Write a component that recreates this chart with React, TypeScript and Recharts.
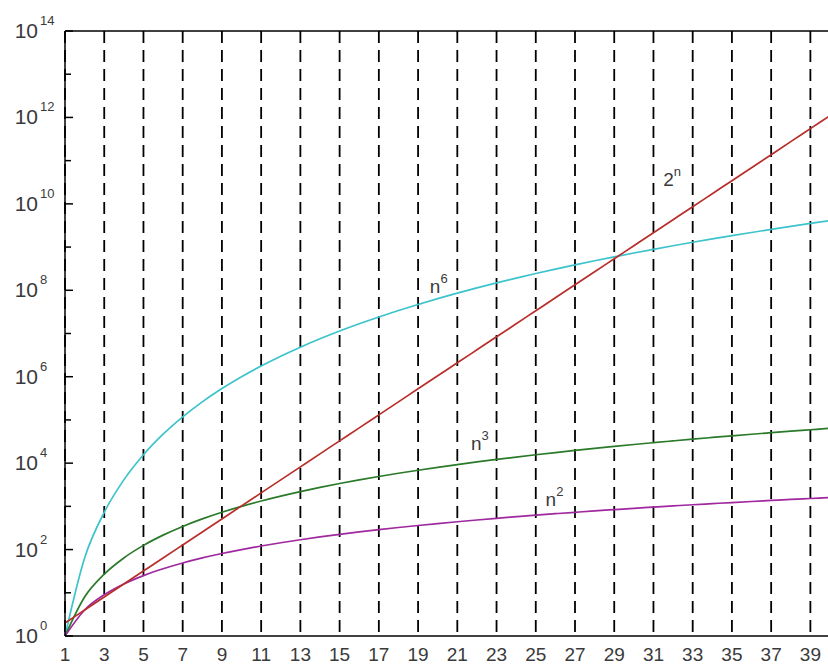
import React from 'react';
import { LineChart, Line, XAxis, YAxis, CartesianGrid, ReferenceLine, ReferenceDot } from 'recharts';

// n = 1..40
const nValues = [
  1, 2, 3, 4, 5, 6, 7, 8, 9, 10, 11, 12, 13, 14, 15, 16, 17, 18, 19, 20,
  21, 22, 23, 24, 25, 26, 27, 28, 29, 30, 31, 32, 33, 34, 35, 36, 37, 38, 39, 40,
];

const squareValues = [
  1, 4, 9, 16, 25, 36, 49, 64, 81, 100, 121, 144, 169, 196, 225, 256, 289, 324, 361, 400,
  441, 484, 529, 576, 625, 676, 729, 784, 841, 900, 961, 1024, 1089, 1156, 1225, 1296, 1369, 1444, 1521, 1600,
];

const cubeValues = [
  1, 8, 27, 64, 125, 216, 343, 512, 729, 1000, 1331, 1728, 2197, 2744, 3375, 4096, 4913, 5832, 6859, 8000,
  9261, 10648, 12167, 13824, 15625, 17576, 19683, 21952, 24389, 27000, 29791, 32768, 35937, 39304, 42875,
  46656, 50653, 54872, 59319, 64000,
];

const sixthValues = [
  1, 64, 729, 4096, 15625, 46656, 117649, 262144, 531441, 1000000, 1771561, 2985984, 4826809, 7529536,
  11390625, 16777216, 24137569, 34012224, 47045881, 64000000, 85766121, 113379904, 148035889, 191102976,
  244140625, 308915776, 387420489, 481890304, 594823321, 729000000, 887503681, 1073741824, 1291467969,
  1544804416, 1838265625, 2176782336, 2565726409, 3010936384, 3518743761, 4096000000,
];

const expValues = [
  2, 4, 8, 16, 32, 64, 128, 256, 512, 1024, 2048, 4096, 8192, 16384, 32768, 65536, 131072, 262144, 524288,
  1048576, 2097152, 4194304, 8388608, 16777216, 33554432, 67108864, 134217728, 268435456, 536870912,
  1073741824, 2147483648, 4294967296, 8589934592, 17179869184, 34359738368, 68719476736, 137438953472,
  274877906944, 549755813888, 1099511627776,
];

const xTicks = [1, 3, 5, 7, 9, 11, 13, 15, 17, 19, 21, 23, 25, 27, 29, 31, 33, 35, 37, 39];
const yTicks = [1, 1e1, 1e2, 1e3, 1e4, 1e5, 1e6, 1e7, 1e8, 1e9, 1e10, 1e11, 1e12, 1e13, 1e14];

// curve labels: base, superscript, position (data coords)
const curveLabels = [
  { base: 'n', sup: '6', x: 19.6, y: 8.7e7 },
  { base: '2', sup: 'n', x: 31.5, y: 2.6e10 },
  { base: 'n', sup: '3', x: 21.7, y: 2.0e4 },
  { base: 'n', sup: '2', x: 25.5, y: 1.0e3 },
];

const data = nValues.map((n, i) => ({
  n,
  sq: squareValues[i],
  cube: cubeValues[i],
  sixth: sixthValues[i],
  exp: expValues[i],
}));

const FONT = '"Liberation Sans", Arial, sans-serif';
const TEXT = '#3a3a3a';

const YTick = (props: any) => {
  const { x, y, payload } = props;
  const exp = Math.round(Math.log10(payload.value));
  const major = exp % 2 === 0;
  return (
    <g>
      <line x1={x} y1={y} x2={x + (major ? 8 : 6)} y2={y} stroke="#000" strokeWidth={1.5} />
      {major && (
        <text x={x - 27} y={y + 7} textAnchor="end" fontSize={21} fill={TEXT} fontFamily={FONT}>
          10
        </text>
      )}
      {major && (
        <text x={x - 25} y={y - 6} textAnchor="start" fontSize={13} fill={TEXT} fontFamily={FONT}>
          {exp}
        </text>
      )}
    </g>
  );
};

const CurveLabel = (props: any) => {
  const { viewBox, base, sup } = props;
  return (
    <text x={viewBox.x} y={viewBox.y} fontSize={19} fill={TEXT} fontFamily={FONT}>
      <tspan>{base}</tspan>
      <tspan dy={-10} fontSize={13}>{sup}</tspan>
    </text>
  );
};

export default function App() {
  return (
    <div style={{ position: 'absolute', left: 0, top: 0, width: 828, height: 665, overflow: 'hidden', background: '#fff' }}>
      <LineChart width={832} height={665} data={data} margin={{ top: 31, right: 2, bottom: 0, left: 0 }}>
        <CartesianGrid horizontal={false} stroke="#000" strokeWidth={1.8} strokeDasharray="12 7" />
        <XAxis
          dataKey="n"
          type="number"
          domain={[1, 40]}
          ticks={xTicks}
          interval={0}
          height={29}
          tickLine={false}
          axisLine={{ stroke: '#000', strokeWidth: 1.5 }}
          tick={{ fill: TEXT, fontSize: 19, fontFamily: FONT }}
          tickMargin={6}
        />
        <YAxis
          scale="log"
          domain={[1, 1e14]}
          allowDataOverflow
          ticks={yTicks}
          interval={0}
          width={65}
          tickLine={false}
          tickSize={0}
          tickMargin={0}
          axisLine={{ stroke: '#000', strokeWidth: 1.5 }}
          tick={<YTick />}
        />
        <ReferenceLine y={1e14} stroke="#000" strokeWidth={1.5} />
        <Line dataKey="sixth" type="monotone" stroke="#3cc3cc" strokeWidth={1.7} dot={false} isAnimationActive={false} />
        <Line dataKey="cube" type="monotone" stroke="#2a7a2a" strokeWidth={1.7} dot={false} isAnimationActive={false} />
        <Line dataKey="sq" type="monotone" stroke="#a0289e" strokeWidth={1.7} dot={false} isAnimationActive={false} />
        <Line dataKey="exp" type="monotone" stroke="#b82e2a" strokeWidth={1.7} dot={false} isAnimationActive={false} />
        {curveLabels.map((l, i) => (
          <ReferenceDot
            key={i}
            x={l.x}
            y={l.y}
            r={0}
            fill="none"
            stroke="none"
            label={<CurveLabel base={l.base} sup={l.sup} />}
          />
        ))}
      </LineChart>
    </div>
  );
}
